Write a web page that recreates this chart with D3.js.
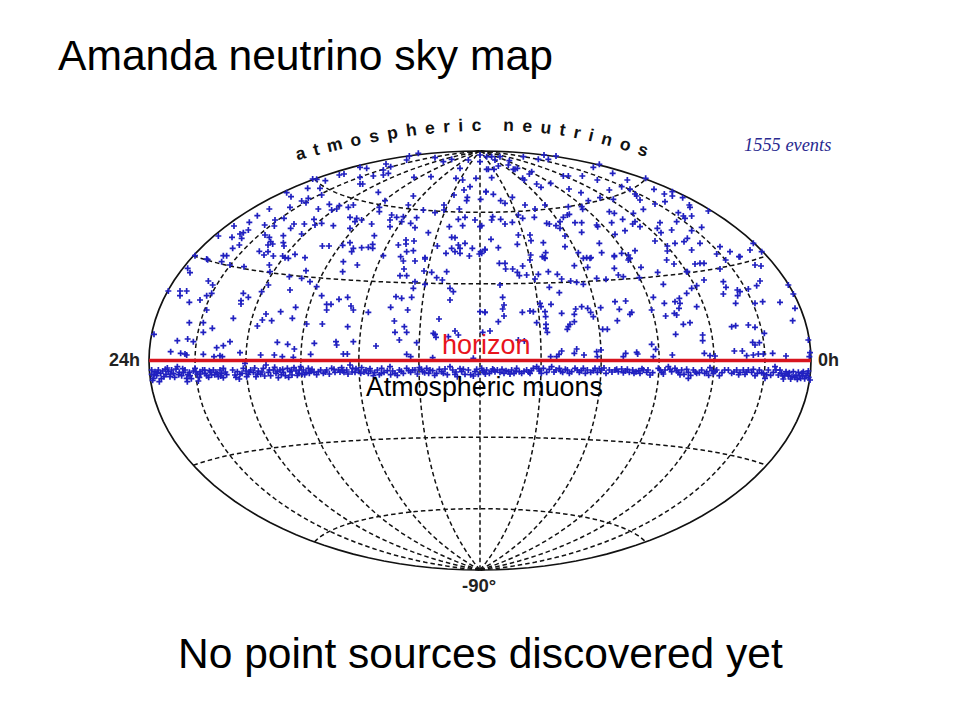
<!DOCTYPE html>
<html><head><meta charset="utf-8">
<style>html,body{margin:0;padding:0;background:#fff}svg{display:block}</style>
<script src="https://cdn.jsdelivr.net/npm/d3@7"></script></head>
<body><svg id="c" width="960" height="720"></svg>
<script>
// Labels
const titleText = "Amanda neutrino sky map";
const footerText = "No point sources discovered yet";
const arcLabel = "atmospheric neutrinos";
const eventsLabel = "1555 events";
const meridianHours = [2,4,6,8,10,12,14,16,18,20,22];
const parallelDegrees = [-60,-30,30,60];
// Events as [east-west, north-south] map-plane readings, origin at the map centre
const northWest = [[-185,620],[-212,612],[-220,600],[-135,607],[-110,595],[-85,602],[-60,575],[0,615],[0,595],[20,572],[-35,600],[-282,588],[-268,580],[-360,578],[-340,575],[-290,570],[-290,555],[-275,560],[-408,558],[-422,555],[-320,552],[-360,548],[-198,548],[-147,550],[-72,545],[-52,540],[-12,545],[-502,543],[-490,542],[-464,538],[-360,528],[-352,528],[-480,515],[-517,515],[-475,495],[-580,502],[-567,490],[-305,503],[-200,492],[-30,520],[-48,510],[-78,495],[-38,488],[-40,478],[18,505],[2,482],[-515,485],[-535,477],[-522,472],[-285,478],[-380,465],[-452,467],[-422,463],[-430,453],[-445,450],[-395,458],[-485,453],[-570,458],[-632,453],[-302,458],[-302,445],[-215,465],[-170,450],[-135,442],[-108,465],[-108,450],[-62,453],[-668,433],[-615,420],[-588,425],[-498,422],[-495,405],[-475,410],[-390,428],[-370,425],[-355,420],[-375,415],[-265,435],[-250,428],[-230,430],[-190,427],[-235,415],[-208,410],[-65,422],[-45,428],[-15,420],[-52,403],[5,403],[-270,420],[-692,413],[-695,390],[-738,402],[-646,405],[-617,402],[-558,408],[-568,395],[-527,408],[-440,403],[-390,395],[-325,408],[-270,400],[-195,397],[-92,400],[-710,382],[-720,378],[-785,372],[-744,368],[-715,365],[-645,375],[-632,368],[-628,355],[-622,348],[-590,373],[-535,378],[-590,352],[-588,342],[-317,373],[-155,382],[-222,360],[-222,348],[-198,357],[-245,345],[-85,368],[-75,367],[-742,335],[-722,345],[-636,345],[-473,342],[-453,342],[-412,344],[-390,352],[-355,337],[-335,338],[-322,347],[-322,335],[-128,342],[-65,345],[-45,350],[-60,335],[-23,335],[-85,335],[-102,320],[-75,325],[2,325],[15,330],[-60,320],[-200,328],[-662,326],[-636,325],[-648,315],[-385,325],[-380,335],[-220,325],[-855,313],[-820,303],[-770,313],[-760,313],[-620,312],[-592,312],[-555,317],[-575,305],[-525,307],[-290,313],[-238,310],[-165,307],[-32,312],[-2,318]];
const northEast = [[20,610],[35,610],[45,600],[60,610],[88,598],[25,572],[42,572],[55,582],[85,585],[105,572],[112,575],[100,572],[130,610],[175,602],[192,615],[205,602],[228,612],[340,578],[358,587],[398,560],[155,565],[128,545],[148,558],[133,540],[250,552],[265,552],[307,552],[352,540],[35,547],[170,528],[183,518],[212,530],[442,540],[497,545],[425,520],[450,512],[522,512],[388,510],[267,513],[303,502],[18,505],[40,497],[97,488],[62,478],[75,470],[135,465],[165,453],[195,465],[265,460],[305,460],[308,452],[325,478],[360,487],[400,482],[465,498],[470,492],[480,480],[525,468],[553,498],[555,475],[577,505],[577,492],[608,487],[628,465],[630,458],[490,452],[460,440],[388,445],[403,440],[428,422],[458,408],[465,415],[480,400],[395,412],[350,405],[353,400],[285,412],[305,412],[262,435],[250,428],[268,437],[240,415],[228,403],[240,395],[200,410],[208,408],[163,428],[128,425],[115,435],[38,430],[35,420],[62,422],[75,408],[97,413],[0,400],[590,415],[540,412],[532,395],[543,382],[575,390],[595,442],[610,432],[615,425],[635,432],[635,388],[665,398],[685,447],[33,362],[115,375],[150,375],[112,347],[153,358],[190,352],[255,372],[305,383],[405,377],[435,388],[525,357],[358,350],[585,350],[612,355],[622,365],[660,350],[720,340],[750,325],[777,310],[810,330],[820,350],[845,325],[710,318],[55,337],[15,332],[5,320],[255,340],[365,322],[403,313],[425,320],[445,315],[465,328],[635,330],[562,342],[562,327],[197,322],[152,315],[187,310],[195,305],[295,322],[320,307],[333,307],[447,305]];
const midWest = [[-817,301],[-775,295],[-708,280],[-750,285],[-632,285],[-585,307],[-522,268],[-630,265],[-410,295],[-412,265],[-368,285],[-230,297],[-228,273],[-195,297],[-165,303],[-168,267],[-145,263],[-100,265],[-240,253],[-220,253],[-572,250],[-535,245],[-510,235],[-130,247],[-113,240],[-877,275],[-870,262],[-815,237],[-802,225],[-635,225],[-490,220],[-195,235],[-165,227],[-200,215],[-90,215],[-80,205],[-935,207],[-900,207],[-880,207],[-900,193],[-805,200],[-820,193],[-655,205],[-570,210],[-710,200],[-695,188],[-840,180],[-872,173],[-717,178],[-717,168],[-475,193],[-423,182],[-397,188],[-252,190],[-235,185],[-205,188],[-90,180],[-460,167],[-447,167],[-387,162],[-380,150],[-460,150],[-335,143],[-268,158],[-217,150],[-553,158],[-598,145],[-642,138],[-820,150],[-563,125],[-653,120],[-625,118],[-740,125],[-872,112],[-830,112],[-520,108],[-473,108],[-668,102],[-803,95],[-397,100],[-257,117],[-227,100],[-830,83],[-255,83],[-220,83],[-123,123],[-75,87],[-65,75],[-135,77],[-140,80],[-95,70],[-132,68],[15,143],[0,145],[-978,77],[-908,58],[-877,63],[-860,55],[-750,55],[-770,43],[-790,37],[-608,53],[-577,47],[-557,33],[-497,50],[-432,55],[-430,45],[-380,55],[-312,42],[-242,60],[-190,52],[-928,25],[-898,20],[-885,18],[-880,15],[-830,17],[-798,10],[-780,13],[-773,10],[-720,22],[-658,15],[-617,15],[-593,10],[-560,8],[-508,17],[-410,18],[-398,18],[-220,17],[-208,10],[-142,7],[-20,5]];
const midEast = [[58,290],[75,290],[77,273],[98,273],[128,282],[150,300],[193,307],[283,283],[310,305],[330,305],[323,278],[403,310],[403,275],[445,300],[450,305],[483,278],[560,300],[582,288],[620,265],[645,288],[660,290],[672,290],[720,273],[737,300],[780,310],[825,285],[843,282],[533,263],[112,263],[118,253],[140,255],[175,257],[205,265],[232,257],[245,243],[165,243],[272,237],[290,233],[310,227],[350,245],[378,242],[415,255],[430,250],[478,247],[672,240],[550,227],[622,265],[60,225],[208,218],[238,202],[650,223],[730,235],[738,218],[730,198],[840,237],[830,223],[805,213],[772,210],[780,205],[773,193],[925,225],[940,198],[68,188],[520,188],[635,215],[620,200],[598,185],[585,175],[553,170],[405,175],[437,177],[72,165],[68,153],[15,143],[127,143],[150,147],[160,145],[180,170],[183,160],[213,167],[195,145],[245,140],[305,160],[323,155],[287,153],[283,137],[332,143],[340,130],[362,157],[418,152],[515,150],[650,160],[600,170],[597,155],[583,140],[590,135],[557,132],[825,170],[848,175],[767,170],[900,173],[945,155],[455,143],[450,137],[72,132],[197,130],[55,115],[170,112],[283,115],[270,107],[265,100],[262,92],[198,107],[198,95],[412,118],[610,107],[630,112],[938,118],[767,103],[755,100],[805,105],[825,98],[202,83],[30,87],[8,83],[368,92],[382,92],[587,77],[668,75],[668,58],[853,80],[115,60],[133,57],[515,47],[527,32],[818,53],[825,45],[838,52],[985,60],[290,33],[283,20],[245,27],[237,17],[230,10],[212,10],[312,15],[350,25],[352,10],[363,30],[437,20],[430,10],[470,23],[473,18],[520,10],[577,15],[673,20],[690,13],[705,12],[763,27],[787,27],[800,13],[820,15],[835,18],[850,18],[878,20],[918,12],[990,22],[988,10]];
const muonsWest = [[-985,-30],[-985,-43],[-980,-55],[-982,-61],[-975,-35],[-970,-47],[-965,-30],[-962,-65],[-958,-40],[-952,-33],[-948,-50],[-942,-43],[-935,-35],[-930,-50],[-925,-30],[-920,-40],[-912,-27],[-908,-20],[-902,-37],[-895,-47],[-885,-30],[-880,-55],[-878,-65],[-872,-37],[-870,-47],[-860,-33],[-855,-25],[-848,-43],[-845,-63],[-840,-35],[-832,-30],[-825,-40],[-820,-47],[-812,-32],[-805,-45],[-800,-30],[-792,-37],[-785,-50],[-780,-30],[-775,-40],[-770,-25],[-770,-53],[-742,-30],[-735,-45],[-728,-35],[-722,-57],[-720,-43],[-710,-25],[-705,-10],[-702,-33],[-695,-43],[-688,-30],[-680,-37],[-672,-50],[-665,-33],[-658,-43],[-650,-25],[-642,-15],[-635,-37],[-628,-47],[-620,-30],[-612,-40],[-605,-53],[-600,-30],[-590,-37],[-584,-47],[-578,-25],[-570,-35],[-564,-45],[-558,-23],[-552,-33],[-544,-40],[-538,-20],[-530,-30],[-522,-37],[-515,-25],[-508,-33],[-498,-37],[-485,-35],[-470,-40],[-460,-30],[-445,-25],[-435,-37],[-425,-30],[-415,-23],[-408,-37],[-400,-30],[-390,-15],[-382,-25],[-375,-37],[-365,-30],[-355,-23],[-342,-30],[-335,-40],[-328,-33],[-320,-47],[-308,-30],[-295,-25],[-288,-37],[-270,-20],[-262,-33],[-255,-40],[-242,-30],[-230,-40],[-220,-25],[-208,-37],[-195,-30],[-182,-23],[-172,-35],[-160,-25],[-150,-30],[-130,-40],[-115,-35],[-105,-27],[-90,-20],[-82,-30],[-75,-43],[-68,-50],[-55,-35],[-45,-43],[-35,-30],[-15,-35],[-5,-43],[-968,-38],[-944,-28],[-916,-52],[-890,-38],[-866,-56],[-838,-42],[-814,-52],[-796,-44],[-764,-36],[-700,-50],[-676,-24],[-646,-48],[-616,-22],[-596,-44],[-574,-52],[-548,-46],[-526,-44],[-504,-28],[-478,-30],[-452,-42],[-420,-36],[-396,-42],[-372,-26],[-348,-36],[-316,-38],[-302,-44],[-278,-32],[-248,-46],[-214,-32],[-188,-42],[-166,-38],[-142,-32],[-122,-28],[-98,-44],[-60,-26],[-28,-44],[-10,-28],[-978,-44],[-956,-56],[-938,-24],[-928,-42],[-904,-44],[-892,-26],[-876,-44],[-852,-36],[-842,-52],[-826,-30],[-808,-36],[-788,-42],[-778,-48],[-760,-44],[-732,-52],[-714,-40],[-692,-36],[-668,-42],[-654,-36],[-632,-30],[-608,-34],[-592,-28],[-566,-30],[-542,-30],[-534,-42],[-512,-40],[-490,-44],[-464,-36],[-438,-28],[-412,-32],[-384,-36],[-358,-40],[-330,-26],[-296,-40],[-268,-44],[-236,-34],[-202,-30],[-176,-28],[-154,-40],[-136,-46],[-110,-40],[-72,-36],[-50,-28],[-20,-48]];
const muonsEast = [[5,-25],[12,-37],[20,-30],[28,-40],[38,-27],[45,-35],[52,-30],[60,-37],[72,-40],[85,-35],[95,-30],[102,-40],[110,-25],[118,-35],[125,-40],[140,-30],[150,-40],[160,-25],[170,-20],[178,-33],[190,-25],[200,-37],[215,-20],[228,-30],[238,-25],[248,-37],[262,-30],[275,-35],[285,-25],[298,-37],[310,-25],[322,-30],[332,-37],[345,-25],[352,-37],[365,-30],[378,-40],[388,-30],[405,-30],[415,-35],[425,-27],[436,-33],[448,-37],[458,-30],[468,-35],[480,-40],[490,-30],[500,-37],[510,-45],[535,-25],[545,-37],[555,-30],[565,-20],[575,-35],[585,-25],[595,-37],[605,-30],[612,-43],[625,-37],[625,-55],[640,-30],[650,-40],[665,-30],[680,-35],[690,-23],[700,-40],[710,-30],[718,-47],[745,-30],[755,-40],[770,-30],[780,-37],[795,-43],[805,-30],[815,-37],[825,-47],[838,-30],[850,-40],[855,-55],[865,-30],[880,-37],[885,-20],[895,-45],[905,-40],[910,-57],[918,-35],[925,-47],[932,-57],[940,-35],[948,-47],[955,-37],[962,-55],[970,-35],[978,-47],[985,-33],[990,-60],[16,-42],[34,-34],[66,-28],[90,-42],[132,-34],[154,-32],[184,-40],[208,-28],[242,-34],[268,-40],[292,-30],[316,-40],[340,-32],[372,-24],[396,-36],[430,-38],[462,-40],[486,-26],[518,-38],[550,-42],[570,-28],[600,-44],[632,-46],[658,-38],[686,-46],[705,-34],[726,-38],[762,-36],[790,-30],[820,-28],[845,-38],[872,-46],[900,-30],[914,-46],[928,-38],[944,-52],[958,-46],[966,-40],[974,-56],[982,-40],[8,-32],[42,-30],[78,-32],[108,-34],[146,-36],[176,-26],[222,-36],[256,-28],[304,-32],[358,-26],[410,-28],[442,-28],[476,-32],[504,-30],[540,-30],[590,-32],[620,-28],[646,-36],[674,-40],[696,-32],[734,-30],[776,-44],[800,-36],[832,-40],[860,-44],[888,-30],[908,-48],[922,-42],[936,-50],[952,-58],[968,-48],[986,-52]];

const svg = d3.select("#c");
const RX = 331, RY = 209.5, CX = 480, CY = 360.5;
// Stretched Hammer equal-area sky map
const stretch = RX / (2 * RY);
const hammerRaw = (l, p) => {
  const d = Math.sqrt(1 + Math.cos(p) * Math.cos(l / 2));
  return [stretch * 2 * Math.SQRT2 * Math.cos(p) * Math.sin(l / 2) / d, Math.SQRT2 * Math.sin(p) / d];
};
const projection = d3.geoProjection(hammerRaw).scale(RY / Math.SQRT2).translate([CX, CY]).precision(0.1);
const geo = d3.geoPath(projection);
const lonOf = h => 180 - 15 * h;
const x = d3.scaleLinear([-993, 993], [149, 811]);
const y = d3.scaleLinear([-630, 630], [570, 150]);

const dashed = svg.append("g").attr("fill", "none").attr("stroke", "#111").attr("stroke-width", 1.5).attr("stroke-dasharray", "4.5,3");
dashed.selectAll("path.m").data(meridianHours).join("path").attr("class", "m")
  .attr("d", h => geo({type: "LineString", coordinates: d3.range(-89.9, 90, 2).concat(89.9).map(d => [lonOf(h), d])}));
dashed.selectAll("path.p").data(parallelDegrees).join("path").attr("class", "p")
  .attr("d", d => geo({type: "LineString", coordinates: d3.range(-179.9, 180, 4).concat(179.9).map(l => [l, d])}));

svg.append("path").attr("d", geo({type: "Sphere"})).attr("fill", "none").attr("stroke", "#111").attr("stroke-width", 1.7);

const cross = "M-3,0H3M0,-3V3";
svg.append("g").attr("fill", "none").attr("stroke", "#2020c0").attr("stroke-width", 1.7)
  .selectAll("path").data([...northWest, ...northEast, ...midWest, ...midEast, ...muonsWest, ...muonsEast]).join("path")
  .attr("d", cross).attr("transform", d => `translate(${x(d[0])},${y(d[1])})`);

svg.append("path").attr("fill", "none").attr("stroke", "#d8141e").attr("stroke-width", 3.4)
  .attr("d", geo({type: "LineString", coordinates: d3.range(-179.9, 180, 10).concat(179.9).map(l => [l, 0])}));

const text = (s, tx, ty, size, fill, extra = {}) => {
  const t = svg.append("text").text(s).attr("x", tx).attr("y", ty).attr("font-size", size).attr("fill", fill)
    .attr("font-family", extra.family || "'Liberation Sans', Arial, sans-serif");
  if (extra.weight) t.attr("font-weight", extra.weight);
  if (extra.style) t.attr("font-style", extra.style);
  return t;
};
text(titleText, 58, 70, 42.6, "#000");
text(footerText, 178, 668, 42.5, "#000");
text("horizon", 442, 354, 27, "#e8141c");
text("Atmospheric muons", 366, 396, 26.8, "#000");
text("24h", 109, 366, 18, "#222", {weight: 700});
text("0h", 818, 366, 18, "#222", {weight: 700});
text("-90°", 462, 592, 18.5, "#222", {weight: 700});
text(eventsLabel, 744, 151, 18.4, "#2a2a90", {family: "'Liberation Serif', serif", style: "italic"});

const defs = svg.append("defs");
defs.append("path").attr("id", "arc").attr("d", d3.line().curve(d3.curveNatural)([[283,164],[380,141],[472,131],[570,137],[668,164]]));
svg.append("text").attr("font-family", "'Liberation Sans', Arial, sans-serif").attr("font-weight", 700).attr("font-size", 17.5)
  .attr("fill", "#111").attr("letter-spacing", 8.3).attr("text-anchor", "middle")
  .append("textPath").attr("href", "#arc").attr("startOffset", "50%").text(arcLabel);
</script></body></html>
